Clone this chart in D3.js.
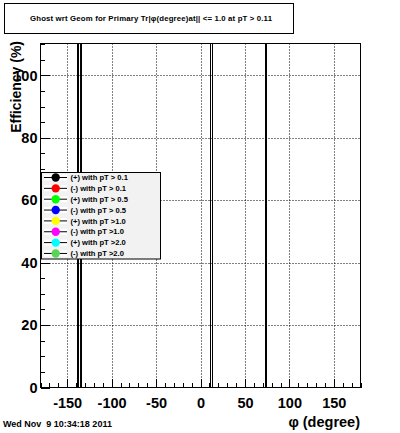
<!DOCTYPE html>
<html><head><meta charset="utf-8">
<script src="https://cdn.jsdelivr.net/npm/d3@7"></script>
<style>
html,body{margin:0;padding:0;background:#fff;}
svg{display:block;font-family:"Liberation Sans",Arial,sans-serif;}
</style></head>
<body>
<svg id="c" width="400" height="433"></svg>
<script>
// ---- data ----
const seriesNames = ["(+) with pT > 0.1","(-) with pT > 0.1","(+) with pT > 0.5","(-) with pT > 0.5",
                     "(+) with pT >1.0","(-) with pT >1.0","(+) with pT >2.0","(-) with pT >2.0"];
const seriesColors = ["#000000","#ff0000","#00ff00","#0000ff","#ffff00","#ff00ff","#00ffff","#59d454"];
// phi (degree) of spike edges and efficiency (%) values (off-scale spikes)
const phiA = [-137.8, -137.8, -134.4, -134.4, null, 73.7, 73.7, 180];
const effA = [0, 5000, 5000, 0, null, 0, 5000, 5000];
const phiB = [11.25, 11.25, 13.5, 13.5];
const effB = [0, 5000, 5000, 0];
const xMajor = [-150,-100,-50,0,50,100,150];
const yMajor = [0,20,40,60,80,100];
const titleText = "Ghost wrt Geom for Primary Tr|\u03C6(degree)at|| <= 1.0 at pT > 0.11";

// ---- layout ----
const svg = d3.select("#c");
const L = 40.5, R = 360.5, T = 43.5, B = 387.5;
const x = d3.scaleLinear().domain([-180,180]).range([L,R]);
const y = d3.scaleLinear().domain([0,110.25]).range([B,T]);

// grid
const g = svg.append("g");
g.selectAll(".vg").data(xMajor).join("line")
  .attr("x1",d=>Math.round(x(d))+0.5).attr("x2",d=>Math.round(x(d))+0.5)
  .attr("y1",T).attr("y2",B).attr("stroke","#000").attr("stroke-width",1).attr("stroke-dasharray","1,2");
g.selectAll(".hg").data(yMajor.filter(d=>d>0)).join("line")
  .attr("x1",L).attr("x2",R)
  .attr("y1",d=>Math.round(y(d))+0.5).attr("y2",d=>Math.round(y(d))+0.5)
  .attr("stroke","#000").attr("stroke-width",1).attr("stroke-dasharray","1,2");

// clip
svg.append("clipPath").attr("id","clip").append("rect").attr("x",L).attr("y",T).attr("width",R-L).attr("height",B-T);

// series lines
const line = d3.line().defined(d=>d[0]!=null).x(d=>x(d[0])).y(d=>y(d[1]));
const ptsA = phiA.map((p,i)=>[p,effA[i]]);
const ptsB = phiB.map((p,i)=>[p,effB[i]]);
const pg = svg.append("g").attr("clip-path","url(#clip)");
pg.append("path").attr("d",line(ptsA)).attr("fill","none").attr("stroke","#000").attr("stroke-width",2);
pg.append("path").attr("d",line(ptsB)).attr("fill","none").attr("stroke","#000").attr("stroke-width",1);

// frame
svg.append("rect").attr("x",L).attr("y",T).attr("width",R-L).attr("height",B-T)
  .attr("fill","none").attr("stroke","#000").attr("stroke-width",1);

// axes
const xMinor = d3.range(-180,181,10).filter(d=>!xMajor.includes(d));
const yMinor = d3.range(0,111,5).filter(d=>!yMajor.includes(d));
const xa = svg.append("g").attr("transform",`translate(0,${B})`)
  .call(d3.axisBottom(x).tickValues(xMajor).tickSize(-9).tickPadding(10).tickFormat(d3.format("d")));
const xm = svg.append("g").attr("transform",`translate(0,${B})`)
  .call(d3.axisBottom(x).tickValues(xMinor).tickSize(-4.5).tickFormat(""));
const ya = svg.append("g").attr("transform",`translate(${L},0)`)
  .call(d3.axisLeft(y).tickValues(yMajor).tickSize(-9).tickPadding(3).tickFormat(d3.format("d")));
const ym = svg.append("g").attr("transform",`translate(${L},0)`)
  .call(d3.axisLeft(y).tickValues(yMinor).tickSize(-4.5).tickFormat(""));
[xa,xm,ya,ym].forEach(a=>{
  a.select(".domain").remove();
  a.selectAll("line").attr("stroke","#000").attr("shape-rendering","crispEdges");
  a.selectAll("text").attr("font-family","Liberation Sans, Arial, sans-serif")
    .attr("font-size","14.5px").attr("font-weight","bold").attr("fill","#000");
});
xa.selectAll("text").text(d=>d<0?"-"+Math.abs(d):d);

// axis titles
svg.append("text").attr("transform","translate(21,41) rotate(-90)").attr("text-anchor","end")
  .attr("font-size","14px").attr("font-weight","bold").text("Efficiency (%)");
svg.append("text").attr("x",360).attr("y",427).attr("text-anchor","end")
  .attr("font-size","14.5px").attr("font-weight","bold").text("\u03C6 (degree)");

// date
svg.append("text").attr("x",3).attr("y",427).attr("font-size","9px").attr("font-weight","bold")
  .style("white-space","pre").text("Wed Nov  9 10:34:18 2011");

// title box
svg.append("rect").attr("x",4.5).attr("y",3.5).attr("width",289).attr("height",30)
  .attr("fill","#fff").attr("stroke","#000");
svg.append("text").attr("x",30).attr("y",20.5).attr("font-size","7.8px").attr("font-weight","bold")
  .attr("textLength",242).attr("lengthAdjust","spacing").text(titleText);

// legend
const lg = svg.append("g");
lg.append("rect").attr("x",41.5).attr("y",172.5).attr("width",119).attr("height",86.5)
  .attr("fill","#f2f2f2").attr("stroke","#000");
seriesNames.forEach((n,i)=>{
  const cy = 177.5 + i*10.85;
  lg.append("rect").attr("x",44).attr("y",cy-3).attr("width",23).attr("height",6).attr("fill","#fff");
  lg.append("line").attr("x1",44).attr("x2",67).attr("y1",cy).attr("y2",cy).attr("stroke","#000");
  lg.append("circle").attr("cx",55.7).attr("cy",cy).attr("r",4.2).attr("fill",seriesColors[i]);
  lg.append("text").attr("x",70.5).attr("y",cy+2.7).attr("font-size","7.6px").attr("font-weight","bold").text(n);
});
</script>
</body></html>
